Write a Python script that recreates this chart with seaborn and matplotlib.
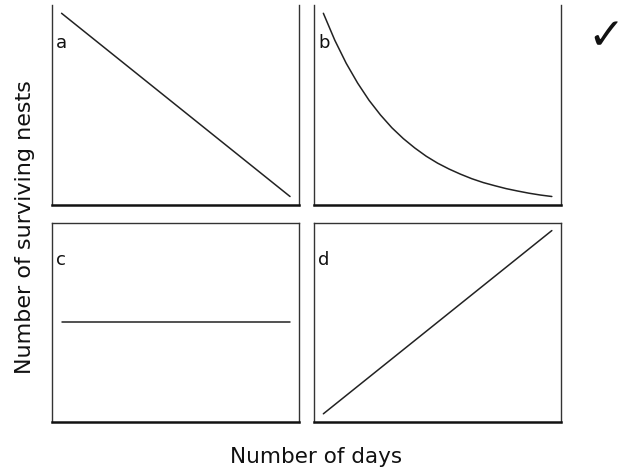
import matplotlib
matplotlib.use("Agg")
from matplotlib import pyplot as plt
import pandas as pd
import seaborn as sns

# days on x, surviving nests on y (arbitrary units)
days_lin = [0, 20]
nests_a = [100, 0]
nests_c = [50, 50]
nests_d = [0, 100]

days_b = [0, 1, 2, 3, 4, 5, 6, 7, 8, 9, 10, 11, 12, 13, 14, 15, 16, 17, 18, 19, 20]
nests_b = [100, 85.3, 72.7, 61.9, 52.5, 44.5, 37.5, 31.6, 26.5, 22.0, 18.2,
	15.0, 12.2, 9.7, 7.6, 5.9, 4.3, 3.0, 1.8, 0.8, 0]

panel_labels = ["a", "b", "c", "d"]
xlabel = "Number of days"
ylabel = "Number of surviving nests"
mark = "\u2713"

sns.set_style("white")
plt.rcParams['font.family'] = ['DejaVu Sans']
plt.rcParams['path.simplify'] = False

fig, axes = plt.subplots(2, 2, figsize=(6.24, 4.74), dpi=100)
fig.subplots_adjust(left=0.084, right=0.899, top=0.989, bottom=0.11, wspace=0.061, hspace=0.09)

series = [
	(days_lin, nests_a),
	(days_b, nests_b),
	(days_lin, nests_c),
	(days_lin, nests_d),
]

for ax, (x, y), lab in zip(axes.flat, series, panel_labels):
	df = pd.DataFrame({'days': x, 'nests': y})
	sns.lineplot(data=df, x='days', y='nests', ax=ax, color='#222222', linewidth=1.1)
	ax.set_xlim(-0.8, 20.8)
	ax.set_ylim(-4.4, 104.4)
	ax.set_xticks([])
	ax.set_yticks([])
	ax.set_xlabel("")
	ax.set_ylabel("")
	for side in ['left', 'right', 'top']:
		ax.spines[side].set_linewidth(1.0)
		ax.spines[side].set_color('#333333')
	ax.spines['bottom'].set_linewidth(1.8)
	ax.spines['bottom'].set_color('#111111')
	ax.text(0.015, 0.81, lab, transform=ax.transAxes, fontsize=13, color='#111111', ha='left', va='center')

# top row is cut off at the top of the sketch
axes[0, 0].spines['top'].set_visible(False)
axes[0, 1].spines['top'].set_visible(False)

fig.text(25 / 624, 1 - 227 / 474, ylabel, rotation=90, ha='center', va='center', fontsize=16, color='#111111')
fig.text(316 / 624, 1 - 457 / 474, xlabel, ha='center', va='center', fontsize=15.5, color='#111111')
fig.text(606 / 624, 1 - 37 / 474, mark, ha='center', va='center', fontsize=32, color='#111111')

fig.savefig("out.png", dpi=100)
